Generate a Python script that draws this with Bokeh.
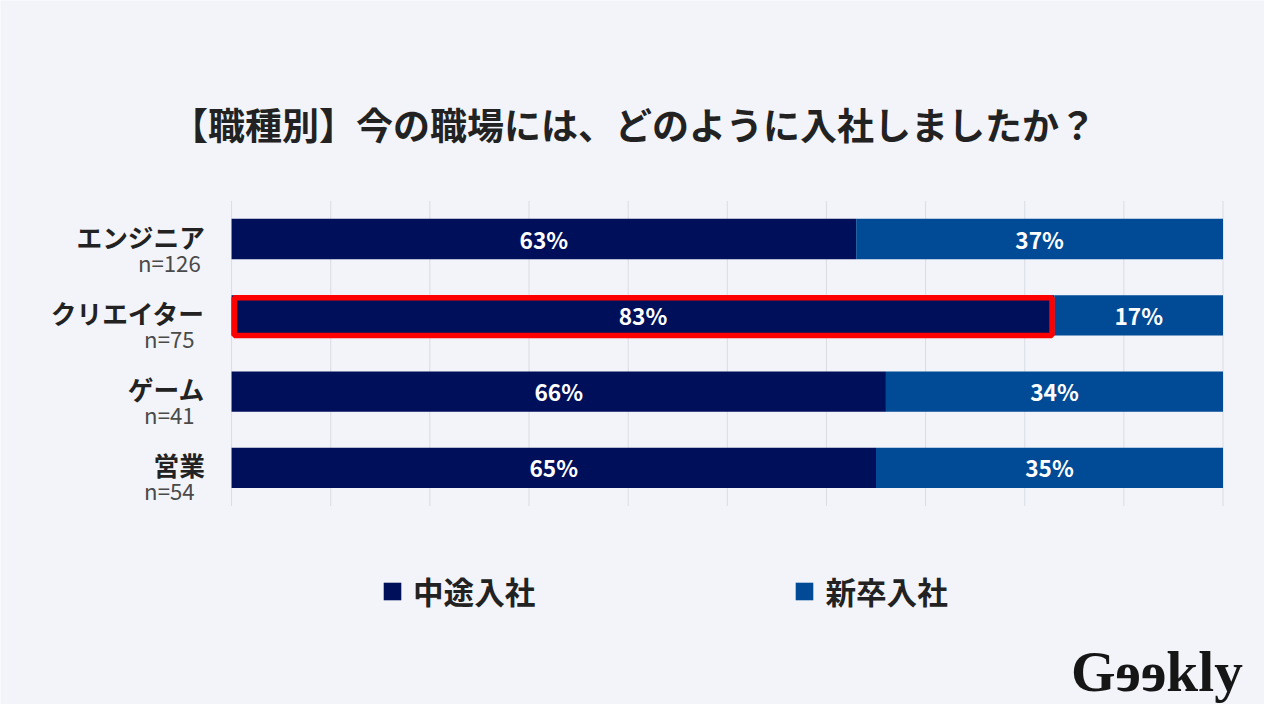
from bokeh.plotting import figure
from bokeh.models import (ColumnDataSource, Range1d, LabelSet, Label, Legend, LegendItem)
from bokeh.core.properties import value
from bokeh.embed import file_html
from bokeh.resources import INLINE

# ---- data ----
categories = ["エンジニア", "クリエイター", "ゲーム", "営業"]
n_labels = ["n=126", "n=75", "n=41", "n=54"]
chuto = [63, 83, 66, 65]        # 中途入社 (%)
shinsotsu = [37, 17, 34, 35]    # 新卒入社 (%)
series_names = ["中途入社", "新卒入社"]
grid_ticks = [0, 10, 20, 30, 40, 50, 60, 70, 80, 90, 100]
highlight_category = "クリエイター"
title_text = "【職種別】今の職場には、どのように入社しましたか？"
logo_text = "Gɘɘkly"

# ---- styles / layout ----
BG = "#F2F4F9"
C_DARK = "#000F5A"
C_BLUE = "#004A96"
JP = "Noto Sans CJK JP"
BAR_H = 0.53

W, H = 1264, 704
SX, SY = W / 1280.0, H / 720.0
# reference frame of the bar area (in 1280x720 reference pixels)
PL, PR, PT, PB = 234, 1238, 205, 517
ncat = len(categories)

ux = (PR - PL) * SX / 100.0
uy = (PB - PT) * SY / ncat
x_start = -PL * SX / ux
x_end = 100 + (1280 - PR) * SX / ux
y_start = -(720 - PB) * SY / uy
y_end = ncat + PT * SY / uy


def dx(px):
    return (px - PL) / (PR - PL) * 100.0


def dy(py):
    return (PB - py) / (PB - PT) * ncat


def fs(px):
    return f"{px * SX:.1f}px"


ys = [ncat - i - 0.5 for i in range(ncat)]
src = ColumnDataSource(dict(
    y=ys, cat=categories, n=n_labels,
    chuto_end=chuto,
    shin_end=[a + b for a, b in zip(chuto, shinsotsu)],
    chuto_mid=[a / 2 for a in chuto],
    shin_mid=[a + b / 2 for a, b in zip(chuto, shinsotsu)],
    chuto_lbl=[f"{v}%" for v in chuto],
    shin_lbl=[f"{v}%" for v in shinsotsu],
))

p = figure(width=W, height=H, output_backend="svg", toolbar_location=None,
           x_range=Range1d(x_start, x_end), y_range=Range1d(y_start, y_end),
           x_axis_location=None, y_axis_location=None, title=None,
           min_border=0)
p.background_fill_color = BG
p.border_fill_color = BG
p.outline_line_color = None
for g in p.grid:
    g.visible = False

# vertical grid lines over the bar area
gsrc = ColumnDataSource(dict(x=grid_ticks, y0=[0] * len(grid_ticks),
                             y1=[ncat] * len(grid_ticks)))
p.segment(x0="x", y0="y0", x1="x", y1="y1", source=gsrc,
          line_color="#DADCE3", line_width=1)

r1 = p.hbar(y="y", left=0, right="chuto_end", height=BAR_H, source=src,
            fill_color=C_DARK, line_color=None)
r2 = p.hbar(y="y", left="chuto_end", right="shin_end", height=BAR_H, source=src,
            fill_color=C_BLUE, line_color=None)

# highlight box around the 中途入社 bar of the highlighted category
hi = categories.index(highlight_category)
hsrc = ColumnDataSource(dict(
    left=[0.27], right=[chuto[hi] - 0.25],
    top=[ys[hi] + BAR_H / 2 - 0.035], bottom=[ys[hi] - BAR_H / 2]))
p.quad(left="left", right="right", top="top", bottom="bottom", source=hsrc,
       fill_color=None, line_color="#FF0000", line_width=5.5)

# value labels
for xcol, tcol in (("chuto_mid", "chuto_lbl"), ("shin_mid", "shin_lbl")):
    p.text(x=xcol, y="y", text=tcol, source=src, text_align="center",
           text_baseline="middle", text_color="white", text_font_size=fs(23),
           text_font_style="bold", text_font=value(JP))

# category labels
p.add_layout(LabelSet(x=0, y="y", text="cat", source=src,
                      x_offset=-27 * SX, y_offset=3 * SY,
                      text_align="right", text_baseline="middle",
                      text_font=value(JP), text_font_size=fs(26),
                      text_font_style="bold", text_color="#222222"))
p.add_layout(LabelSet(x=0, y="y", text="n", source=src,
                      x_offset=-63 * SX, y_offset=-23 * SY,
                      text_align="center", text_baseline="middle",
                      text_font=value(JP), text_font_size=fs(22.5),
                      text_color="#4A4A4A"))

# title
p.add_layout(Label(x=dx(641), y=dy(126), text=title_text, text_align="center",
                   text_baseline="middle", text_font=JP,
                   text_font_size=fs(37.5), text_font_style="bold",
                   text_color="#222222"))

# logo
p.add_layout(Label(x=dx(1258), y=dy(686), text=logo_text, text_align="right",
                   text_baseline="middle", text_font="Liberation Serif",
                   text_font_size=fs(58), text_font_style="bold",
                   text_color="#161616"))

# legend
legend = Legend(items=[LegendItem(label=series_names[0], renderers=[r1]),
                       LegendItem(label=series_names[1], renderers=[r2])],
                orientation="horizontal",
                location=(int(386 * SX), int((720 - 626) * SY)),
                glyph_width=22, glyph_height=22, label_standoff=10, spacing=258,
                padding=0, margin=0, border_line_color=None,
                background_fill_alpha=0,
                label_text_font=JP, label_text_font_size=fs(31),
                label_text_font_style="bold", label_text_color="#222222")
p.add_layout(legend, "center")

open("out.html", "w").write(file_html(p, INLINE))
